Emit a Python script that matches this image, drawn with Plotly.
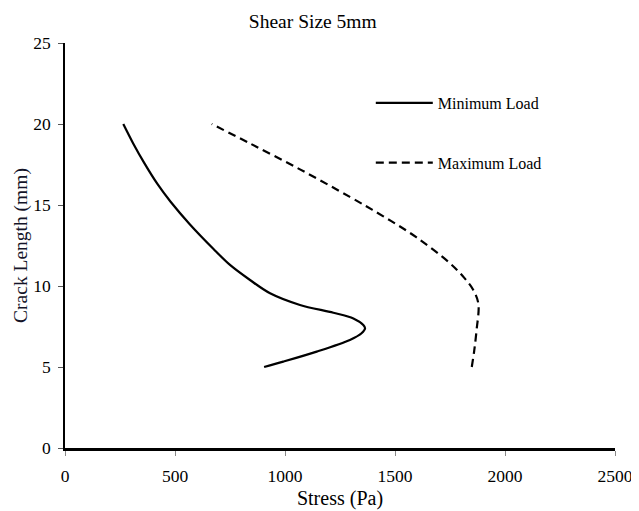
import plotly.graph_objects as go

# Minimum load curve (stress in Pa, crack length in mm)
min_stress = [905, 992, 1144, 1295, 1348, 1364, 1356, 1311, 1220, 1068, 932, 841, 750, 674, 568, 480, 420, 360, 310, 265]
min_crack = [5.0, 5.33, 5.95, 6.67, 7.08, 7.39, 7.59, 8.0, 8.35, 8.83, 9.55, 10.37, 11.3, 12.3, 13.8, 15.2, 16.3, 17.6, 18.8, 20.0]

# Maximum load curve
max_stress = [1849, 1860, 1871, 1879, 1856, 1815, 1750, 1598, 1447, 1295, 1068, 841, 667]
max_crack = [5.0, 6.0, 7.3, 8.9, 9.75, 10.5, 11.4, 13.0, 14.3, 15.5, 17.2, 18.8, 20.0]

x_ticks = [0, 500, 1000, 1500, 2000, 2500]
y_ticks = [0, 5, 10, 15, 20, 25]

FONT = "Liberation Serif, Times New Roman, serif"

fig = go.Figure()
fig.add_trace(go.Scatter(
    x=min_stress, y=min_crack, mode="lines", name="Minimum Load",
    legendgroup="a",
    line=dict(color="black", width=2.2, shape="spline", smoothing=0.9),
))
fig.add_trace(go.Scatter(
    x=max_stress, y=max_crack, mode="lines", name="Maximum Load",
    legendgroup="b",
    line=dict(color="black", width=2.2, shape="spline", smoothing=1.0, dash="8px,5px"),
))

fig.update_layout(
    width=631, height=503,
    margin=dict(l=57, r=24, t=35, b=63, autoexpand=False),
    paper_bgcolor="white", plot_bgcolor="white",
    font=dict(family=FONT, color="black", size=16),
    title=dict(text="Shear Size 5mm", x=0.483, xanchor="center", y=0.974, yanchor="middle",
               font=dict(family=FONT, size=19.5, color="black"), automargin=False),
    showlegend=True,
    legend=dict(x=0.556, y=0.894, xanchor="left", yanchor="top",
                bgcolor="rgba(0,0,0,0)", itemwidth=57, tracegroupgap=36,
                font=dict(family=FONT, size=16, color="black")),
    xaxis=dict(
        range=[0, 2500], tickvals=x_ticks, ticktext=[str(v) for v in x_ticks],
        showgrid=False, zeroline=False, showline=True, linecolor="black", linewidth=2.5,
        ticks="outside", ticklen=5, tickcolor="#888888", tickwidth=1,
        ticklabelstandoff=5, automargin=True,
        tickfont=dict(family=FONT, size=17.5, color="black"),
        title=dict(text="Stress (Pa)", font=dict(family=FONT, size=20, color="black"), standoff=7),
    ),
    yaxis=dict(
        range=[0, 25], tickvals=y_ticks, ticktext=[str(v) for v in y_ticks],
        showgrid=False, zeroline=False, showline=True, linecolor="black", linewidth=1.5,
        ticks="outside", ticklen=5, tickcolor="#555555", tickwidth=1,
        ticklabelstandoff=4, automargin=False,
        tickfont=dict(family=FONT, size=17.5, color="black"),
        title=dict(text="Crack Length (mm)", font=dict(family=FONT, size=19.5, color="#141428"), standoff=0),
    ),
)

fig.write_html("out.html")
